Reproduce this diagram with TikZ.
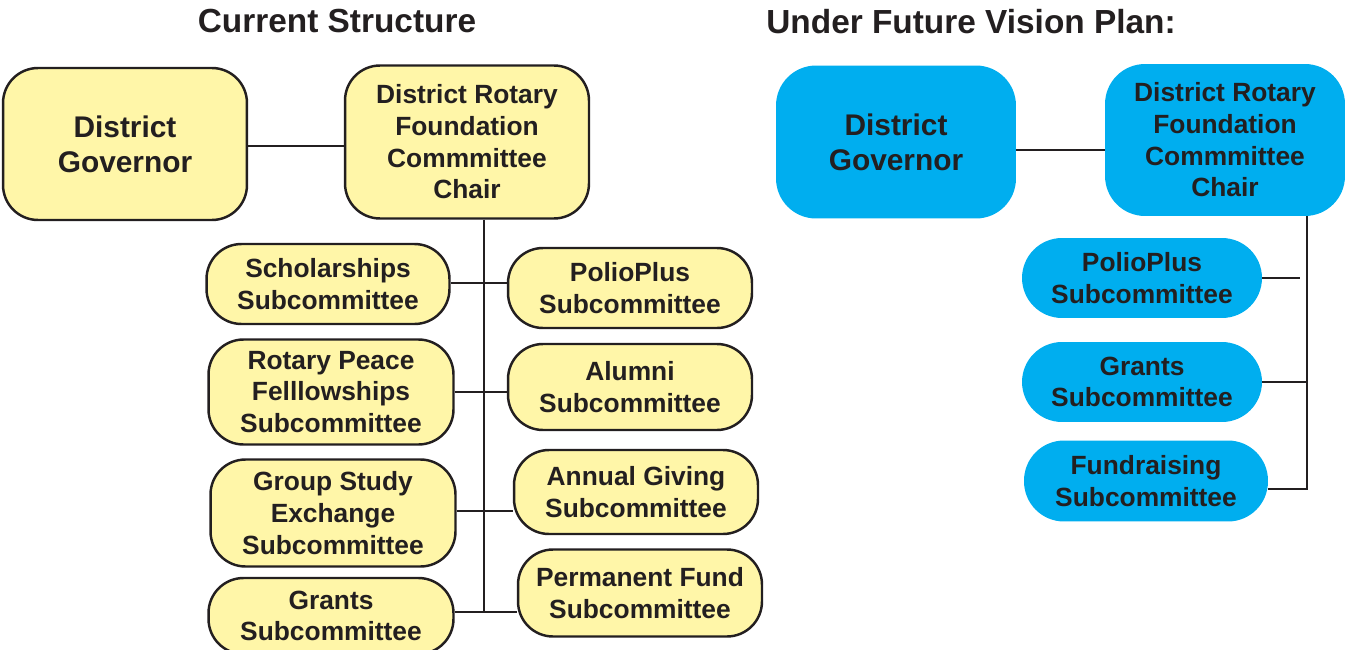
\documentclass[tikz,border=0pt]{standalone}
\usepackage{fontspec}
\setmainfont{Liberation Sans}
\definecolor{boxyellow}{RGB}{255,246,168}
\definecolor{boxblue}{RGB}{0,174,239}
\definecolor{ink}{RGB}{35,31,32}

\begin{document}
\begin{tikzpicture}[x=0.02cm,y=-0.02cm,
    headline/.style={font=\bfseries\fontsize{19}{22}\selectfont,text=ink},
    yellowbox/.style={draw=ink,line width=1.4pt,fill=boxyellow,rounded corners=0.7cm,
      align=center,inner sep=0pt,text=ink,font=\bfseries\fontsize{15}{18}\selectfont},
    bluebox/.style={fill=boxblue,rounded corners=0.8cm,
      align=center,inner sep=0pt,text=ink,font=\bfseries\fontsize{15}{18}\selectfont},
    bigtext/.style={font=\bfseries\fontsize{17}{20}\selectfont},
    link/.style={draw=ink,line width=1.3pt}]
  \useasboundingbox (0,0) rectangle (1345,649);

  % current structure
  \node [headline] (curtitle) at (337,21) {Current Structure};

  \node [yellowbox,bigtext,minimum width=4.88cm,minimum height=3.04cm] (dg) at (125,144) {District\\Governor};
  \node [yellowbox,minimum width=4.88cm,minimum height=3.06cm] (chair) at (467,142) {District Rotary\\Foundation\\Commmittee\\Chair};

  \node [yellowbox,minimum width=4.86cm,minimum height=1.6cm] (schol) at (328,284) {Scholarships\\Subcommittee};
  \node [yellowbox,minimum width=4.9cm,minimum height=2.1cm] (peace) at (331,392) {Rotary Peace\\Felllowships\\Subcommittee};
  \node [yellowbox,minimum width=4.9cm,minimum height=2.14cm] (gse) at (333,513) {Group Study\\Exchange\\Subcommittee};
  \node [yellowbox,minimum width=4.9cm,minimum height=1.52cm] (grants) at (331,616) {Grants\\Subcommittee};

  \node [yellowbox,minimum width=4.88cm,minimum height=1.6cm] (polio) at (630,288) {PolioPlus\\Subcommittee};
  \node [yellowbox,minimum width=4.88cm,minimum height=1.72cm] (alumni) at (630,387) {Alumni\\Subcommittee};
  \node [yellowbox,minimum width=4.88cm,minimum height=1.68cm] (annual) at (636,492) {Annual Giving\\Subcommittee};
  \node [yellowbox,minimum width=4.88cm,minimum height=1.74cm] (permfund) at (640,593) {Permanent Fund\\Subcommittee};

  \coordinate (trunk) at (484,611);
  \draw [link] (dg.east |- 0,146) -- (chair.west |- 0,146);
  \draw [link] (trunk |- chair.south) -- (trunk);
  \draw [link] (schol.east |- 0,283) -- (polio.west |- 0,283);
  \draw [link] (peace.east) -- (peace.east -| alumni.west);
  \draw [link] (gse.east |- 0,511) -- (annual.west |- 0,511);
  \draw [link] (grants.east |- 0,612) -- (permfund.west |- 0,612);

  % future vision plan
  \node [headline] (futtitle) at (971,22) {Under Future Vision Plan:};

  \node [bluebox,bigtext,minimum width=4.8cm,minimum height=3.06cm] (bdg) at (896,142) {District\\Governor};
  \node [bluebox,minimum width=4.8cm,minimum height=3.04cm] (bchair) at (1225,140) {District Rotary\\Foundation\\Commmittee\\Chair};

  \node [bluebox,minimum width=4.8cm,minimum height=1.6cm] (bpolio) at (1142,278) {PolioPlus\\Subcommittee};
  \node [bluebox,minimum width=4.8cm,minimum height=1.6cm] (bgrants) at (1142,382) {Grants\\Subcommittee};
  \node [bluebox,minimum width=4.88cm,minimum height=1.62cm] (bfund) at (1146,481) {Fundraising\\Subcommittee};

  \coordinate (btrunk) at (1307,489);
  \draw [link] (bdg.east |- 0,150) -- (bchair.west |- 0,150);
  \draw [link] (btrunk |- bchair.south) -- (btrunk) -- (bfund.east |- btrunk);
  \draw [link] (bpolio.east) -- ++(38,0);
  \draw [link] (bgrants.east) -- (bgrants.east -| btrunk);
\end{tikzpicture}
\end{document}
